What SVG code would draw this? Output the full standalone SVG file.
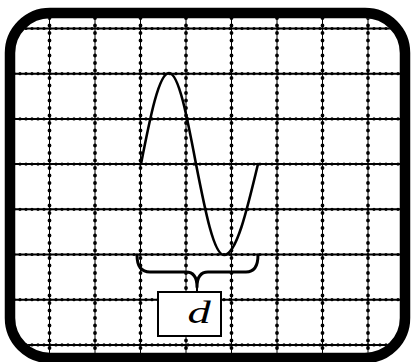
<svg xmlns="http://www.w3.org/2000/svg" width="413" height="362" viewBox="0 0 413 362">
<style>
.h{stroke:#000;stroke-width:2;fill:none}
.hd{stroke:#000;stroke-width:3.2;stroke-dasharray:0 6;stroke-linecap:round;fill:none}
.v{stroke:#000;stroke-width:1;fill:none}
.vd{stroke:#000;stroke-width:3.8;stroke-dasharray:0 7.5;stroke-linecap:round;fill:none}
.ink{stroke:#000;fill:none;stroke-linecap:round;stroke-linejoin:round}
</style>
<defs>
<clipPath id="inner"><rect x="15" y="18" width="385" height="335" rx="35"/></clipPath>
</defs>
<rect width="413" height="362" fill="#fff"/>
<g id="grid" clip-path="url(#inner)">
<path class="h" d="M0,28.5H413M0,73.7H413M0,118.9H413M0,164.1H413M0,209.3H413M0,254.5H413M0,299.7H413M0,344.9H413"/>
<path class="hd" d="M2,28.5H413M2,73.7H413M2,118.9H413M2,164.1H413M2,209.3H413M2,254.5H413M2,299.7H413M2,344.9H413"/>
<path class="v" d="M49.5,0V362M95,0V362M140.5,0V362M186,0V362M231.5,0V362M277,0V362M322.5,0V362M368,0V362"/>
<path class="vd" d="M49.5,3V362M95,3V362M140.5,3V362M186,3V362M231.5,3V362M277,3V362M322.5,3V362M368,3V362"/>
</g>
<g id="wave">
<path class="ink" stroke-width="2.6" d="M141,164C150.1,117.4 158.9,73 169,73C178.8,73 187.2,117.4 196,164C205.1,210.6 213.9,255 224,255C236.3,255 246.9,210.6 258,164"/>
</g>
<g id="connectors">
<path class="ink" stroke-width="3" d="M137,255Q137,272 150,272L186,272Q197,272 197,287Q197,272 208,272L246,272Q258,272 258,255"/>
<path class="ink" stroke-width="2" d="M197,285V292"/>
</g>
<g id="label-d">
<rect x="158" y="292" width="63" height="44" fill="#fff" stroke="#000" stroke-width="2"/>
<text x="199" y="323" font-family="Liberation Serif, serif" font-style="italic" font-size="31" text-anchor="middle" transform="translate(199 0) scale(1.5 1) translate(-199 0)">d</text>
</g>
<g id="frame">
<rect x="10" y="13" width="395" height="345" rx="40" fill="none" stroke="#000" stroke-width="10.5"/>
</g>
</svg>
